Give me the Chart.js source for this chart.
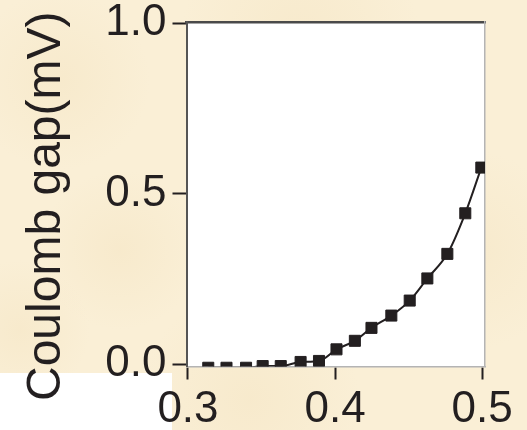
<!DOCTYPE html>
<html>
<head>
<meta charset="utf-8">
<script src="https://cdn.jsdelivr.net/npm/chart.js@4"></script>
<style>
  html, body { margin: 0; padding: 0; background: #faefd6; }
  #wrap { width: 527px; height: 430px; position: relative; }
</style>
</head>
<body>
<div id="wrap"><canvas id="grafica"></canvas></div>
<script>
// datos
const voltaje = [0.3138, 0.3262, 0.3395, 0.3508, 0.3631, 0.3766, 0.3891, 0.401, 0.4135, 0.4248, 0.4383, 0.4508, 0.4628, 0.4764, 0.4886, 0.4995]
const gap = [-0.011, -0.011, -0.011, -0.006, -0.006, 0.006, 0.009, 0.043, 0.068, 0.106, 0.142, 0.186, 0.251, 0.323, 0.442, 0.576]
const ticksX = [0.3, 0.4, 0.5]
const ticksY = [0.0, 0.5, 1.0]
const tituloY = 'Coulomb gap(mV)'

const puntos = voltaje.map((v, i) => ({ x: v, y: gap[i] }))

// fondo tipo pergamino + area blanca
const fondo = {
    id: 'fondo',
    beforeDraw(chart) {
        const { ctx, chartArea: a, width, height } = chart
        ctx.save()
        ctx.fillStyle = '#faefd6'
        ctx.fillRect(0, 0, width, height)
        const manchas = [[60, 80, 90], [300, 40, 120], [470, 250, 100], [250, 400, 110], [120, 250, 80], [20, 330, 70]]
        manchas.forEach(([mx, my, r]) => {
            const g = ctx.createRadialGradient(mx, my, 0, mx, my, r)
            g.addColorStop(0, 'rgba(242,224,186,0.35)')
            g.addColorStop(1, 'rgba(242,224,186,0)')
            ctx.fillStyle = g
            ctx.fillRect(mx - r, my - r, r * 2, r * 2)
        })
        ctx.fillStyle = '#ffffff'
        ctx.fillRect(0, 373, 172, height - 373)
        ctx.fillRect(a.left, a.top, a.right - a.left, a.bottom - a.top)
        ctx.restore()
    }
}

const fuente = { family: "'Liberation Sans', Arial, sans-serif", size: 44 }

new Chart(document.getElementById('grafica'), {
    type: 'line',
    data: {
        datasets: [{
            data: puntos,
            borderColor: '#231f20',
            borderWidth: 2,
            backgroundColor: '#231f20',
            pointStyle: 'rect',
            pointRadius: 7.8,
            pointBorderWidth: 1,
            pointBackgroundColor: '#231f20',
            pointBorderColor: '#231f20',
            cubicInterpolationMode: 'monotone'
        }]
    },
    options: {
        responsive: true,
        maintainAspectRatio: false,
        animation: false,
        layout: { padding: { top: 22, right: 42, left: 0, bottom: 0 } },
        plugins: { legend: { display: false }, tooltip: { enabled: false } },
        scales: {
            x: {
                type: 'linear',
                position: 'bottom',
                min: 0.299,
                max: 0.502,
                afterBuildTicks: s => { s.ticks = ticksX.map(v => ({ value: v })) },
                afterFit: s => { s.height = 63.5; s.paddingLeft = 0; s.paddingRight = 0 },
                border: { color: '#b4b4b4', width: 1.5 },
                grid: { drawOnChartArea: false, tickLength: 13, tickWidth: 2, tickColor: '#231f20' },
                ticks: { color: '#231f20', font: fuente, padding: 4, maxRotation: 0, callback: v => v.toFixed(1) }
            },
            x2: {
                type: 'linear',
                position: 'top',
                min: 0.299,
                max: 0.502,
                border: { color: '#4a4a4a', width: 2.5 },
                grid: { display: false, drawTicks: false },
                ticks: { display: false }
            },
            y: {
                type: 'linear',
                position: 'left',
                min: -0.0073,
                max: 1.003,
                afterBuildTicks: s => { s.ticks = ticksY.map(v => ({ value: v })) },
                afterFit: s => { s.width = 186.5; s.paddingTop = 0; s.paddingBottom = 0 },
                afterUpdate: s => {
                    // el titulo original esta un poco mas abajo que el centro del eje
                    if (s.tituloBajado) return
                    const dibujar = s.drawTitle.bind(s)
                    s.drawTitle = () => { s.ctx.save(); s.ctx.translate(0, 12); dibujar(); s.ctx.restore() }
                    s.tituloBajado = true
                },
                border: { color: '#555555', width: 2 },
                grid: { drawOnChartArea: false, tickLength: 14, tickWidth: 2, tickColor: '#231f20' },
                ticks: { color: '#231f20', font: fuente, padding: 6, callback: v => v.toFixed(1) },
                title: {
                    display: true,
                    text: tituloY,
                    color: '#231f20',
                    font: { family: "'Liberation Sans', Arial, sans-serif", size: 48 },
                    padding: { top: 18, bottom: 0 }
                }
            },
            y2: {
                type: 'linear',
                position: 'right',
                min: -0.0073,
                max: 1.003,
                border: { color: '#b4b4b4', width: 1.5 },
                grid: { display: false, drawTicks: false },
                ticks: { display: false }
            }
        }
    },
    plugins: [fondo]
})
</script>
</body>
</html>
